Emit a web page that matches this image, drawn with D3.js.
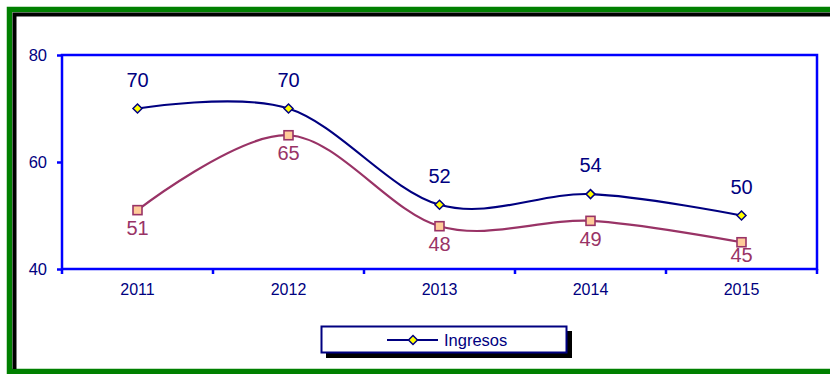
<!DOCTYPE html>
<html>
<head>
<meta charset="utf-8">
<script src="https://cdn.jsdelivr.net/npm/d3@7"></script>
<style>
  html, body { margin: 0; padding: 0; background: #fff; }
  svg { display: block; font-family: "Liberation Sans", Arial, sans-serif; }
</style>
</head>
<body>
<svg id="chart" width="830" height="374"></svg>
<script>
const years = ["2011", "2012", "2013", "2014", "2015"];
const ingresos = [70, 70, 52, 54, 50];
const serie2 = [51, 65, 48, 49, 45];
const yTicks = [40, 60, 80];
const legendLabel = "Ingresos";

const svg = d3.select("#chart");

// outer frame
svg.append("rect").attr("x", 9.5).attr("y", 9.5).attr("width", 900).attr("height", 362)
  .attr("fill", "#fff").attr("stroke", "#008000").attr("stroke-width", 5.5);
svg.append("path").attr("d", "M14.5,369 V14.5 H830")
  .attr("fill", "none").attr("stroke", "#000").attr("stroke-width", 4);

const plot = { left: 62, top: 55, right: 817, bottom: 269 };
const x = d3.scaleBand().domain(years).range([plot.left, plot.right]);
const y = d3.scaleLinear().domain([40, 80]).range([plot.bottom, plot.top]);
const cx = d => x(d) + x.bandwidth() / 2;

// plot area border
svg.append("rect").attr("x", plot.left).attr("y", plot.top)
  .attr("width", plot.right - plot.left).attr("height", plot.bottom - plot.top)
  .attr("fill", "none").attr("stroke", "#0000FF").attr("stroke-width", 2.5);

// y axis
const yAxis = svg.append("g").attr("transform", `translate(${plot.left},0)`)
  .call(d3.axisLeft(y).tickValues(yTicks).tickSize(5).tickSizeOuter(0).tickPadding(10));
yAxis.select(".domain").remove();
yAxis.selectAll("line").attr("stroke", "#0000FF").attr("stroke-width", 2.5);
yAxis.selectAll("text").attr("fill", "#000080").style("font-size", "16.5px")
  .style("font-family", "Liberation Sans, Arial, sans-serif");

// x axis
const xAxis = svg.append("g").attr("transform", `translate(0,${plot.bottom})`)
  .call(d3.axisBottom(x).tickSize(0).tickPadding(15));
xAxis.select(".domain").remove();
xAxis.selectAll("text").attr("fill", "#000080").style("font-size", "16px")
  .style("font-family", "Liberation Sans, Arial, sans-serif");
// boundary ticks
const bounds = years.map(d => x(d)).concat([plot.right]);
svg.append("g").selectAll("line").data(bounds).join("line")
  .attr("x1", d => d).attr("x2", d => d)
  .attr("y1", plot.bottom).attr("y2", plot.bottom + 5)
  .attr("stroke", "#0000FF").attr("stroke-width", 2.5);

const line = d3.line().x((d, i) => cx(years[i])).y(d => y(d)).curve(d3.curveCatmullRom.alpha(0));

// series 2 (maroon)
svg.append("path").datum(serie2).attr("d", line)
  .attr("fill", "none").attr("stroke", "#993366").attr("stroke-width", 2.2);
// series 1 (navy)
svg.append("path").datum(ingresos).attr("d", line)
  .attr("fill", "none").attr("stroke", "#000080").attr("stroke-width", 2.2);

// markers series 2
svg.append("g").selectAll("rect").data(serie2).join("rect")
  .attr("x", (d, i) => cx(years[i]) - 4.5).attr("y", d => y(d) - 4.5)
  .attr("width", 9).attr("height", 9)
  .attr("fill", "#FFCC99").attr("stroke", "#993366").attr("stroke-width", 1.6);
// markers series 1
svg.append("g").selectAll("path").data(ingresos).join("path")
  .attr("transform", (d, i) => `translate(${cx(years[i])},${y(d)})`)
  .attr("d", "M0,-4.5 L4.5,0 L0,4.5 L-4.5,0 Z")
  .attr("fill", "#FFFF00").attr("stroke", "#000080").attr("stroke-width", 1.5);

// labels
svg.append("g").selectAll("text").data(ingresos).join("text")
  .attr("x", (d, i) => cx(years[i])).attr("y", d => y(d) - 22)
  .attr("text-anchor", "middle").attr("fill", "#000080").style("font-size", "20px")
  .text(d => d);
svg.append("g").selectAll("text").data(serie2).join("text")
  .attr("x", (d, i) => cx(years[i])).attr("y", d => Math.min(y(d) + 25, plot.bottom - 7))
  .attr("text-anchor", "middle").attr("fill", "#993366").style("font-size", "20px")
  .text(d => d);

// legend
const lg = svg.append("g");
lg.append("rect").attr("x", 326).attr("y", 331).attr("width", 246).attr("height", 27).attr("fill", "#000");
lg.append("rect").attr("x", 321.5).attr("y", 326.5).attr("width", 245).attr("height", 26)
  .attr("fill", "#fff").attr("stroke", "#000080").attr("stroke-width", 2);
lg.append("line").attr("x1", 387).attr("x2", 438).attr("y1", 340).attr("y2", 340)
  .attr("stroke", "#000080").attr("stroke-width", 2.2);
lg.append("path").attr("transform", "translate(413,340)")
  .attr("d", "M0,-4.5 L4.5,0 L0,4.5 L-4.5,0 Z")
  .attr("fill", "#FFFF00").attr("stroke", "#000080").attr("stroke-width", 1.5);
lg.append("text").attr("x", 444).attr("y", 345.5).attr("fill", "#000080")
  .style("font-size", "16.5px").text(legendLabel);
</script>
</body>
</html>
